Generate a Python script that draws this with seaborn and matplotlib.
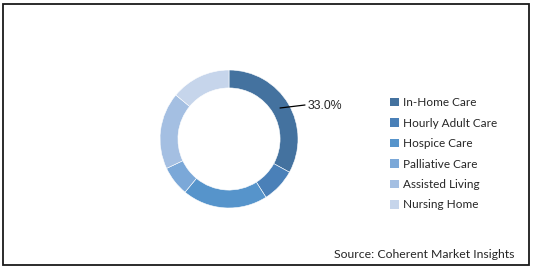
import matplotlib
matplotlib.use("Agg")
import matplotlib.pyplot as plt
from matplotlib.patches import Patch, Rectangle
import seaborn as sns

categories = ["In-Home Care", "Hourly Adult Care", "Hospice Care",
              "Palliative Care", "Assisted Living", "Nursing Home"]
shares = [33.0, 8.0, 20.0, 7.0, 18.0, 14.0]
colors_hex = ["#44729F", "#4A80B8", "#5694CB", "#7BA8D8", "#A4BFE2", "#C6D5EB"]
label_text = "33.0%"
source_text = "Source: Coherent Market Insights"

sns.set_style("white")
plt.rcParams["font.family"] = ["Lato", "DejaVu Sans"]
palette = sns.color_palette(colors_hex)

W, H = 533, 270
fig = plt.figure(figsize=(W / 100, H / 100), dpi=100)
fig.patch.set_facecolor("white")

# outer frame
fig.add_artist(Rectangle((3 / W, 1 - 265 / H), 526 / W, 261 / H,
                         transform=fig.transFigure, fill=False,
                         edgecolor="#1a1a1a", linewidth=1.3))

cx, cy, r = 229, 139, 69
ax = fig.add_axes([(cx - r) / W, (H - cy - r) / H, 2 * r / W, 2 * r / H])
wedges, _ = ax.pie(shares, colors=palette, startangle=90, counterclock=False,
                   radius=1.0, wedgeprops=dict(width=0.26, edgecolor="white",
                                               linewidth=0.4))
ax.set_xlim(-1, 1)
ax.set_ylim(-1, 1)
ax.set_aspect("equal")
ax.axis("off")

# leader line and label for the first slice
def to_data(px, py):
    return ((px - cx) / r, (cy - py) / r)

x0, y0 = to_data(280, 108)
x1, y1 = to_data(305, 105)
ax.plot([x0, x1], [y0, y1], color="black", linewidth=0.9, clip_on=False)
tx, ty = to_data(308, 106)
ax.text(tx, ty, label_text, fontsize=8.8, ha="left", va="center",
        family=["Liberation Sans", "DejaVu Sans"], clip_on=False)

handles = [Patch(facecolor=c, edgecolor="none") for c in palette]
fig.legend(handles, categories, loc="upper left",
           bbox_to_anchor=(382 / W, 1 - 89 / H), frameon=False,
           fontsize=8.5, handlelength=0.75, handleheight=0.75,
           handletextpad=0.35, labelspacing=0.80, borderpad=0.2)

fig.text(515 / W, 1 - 255 / H, source_text, fontsize=8.8, ha="right",
         va="center")

fig.savefig("out.png", dpi=100, facecolor="white")
